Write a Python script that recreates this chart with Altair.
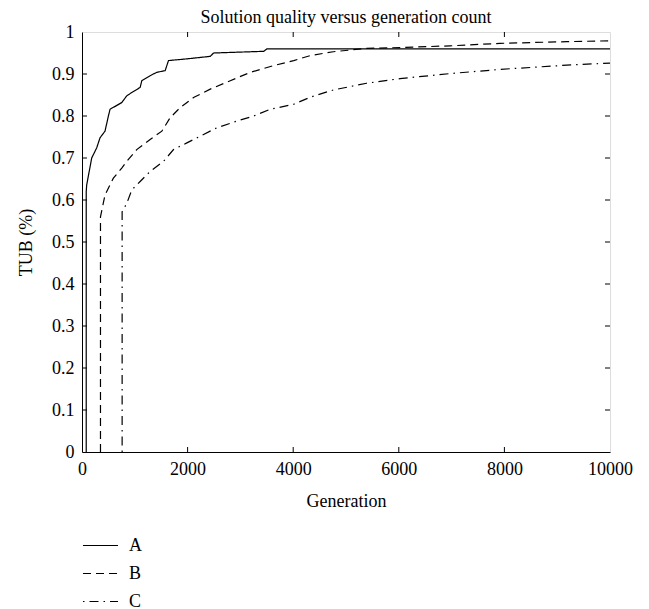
import altair as alt
import pandas as pd

# ---- data ----
a_gen = [80, 80, 89, 184, 278, 341, 436, 500, 531, 753, 848, 943, 1101, 1133,
         1290, 1417, 1575, 1638, 1986, 2429, 2492, 3441, 3504, 10000]
a_val = [0, 0.62, 0.636, 0.70, 0.724, 0.748, 0.764, 0.80, 0.816, 0.832, 0.848,
         0.856, 0.868, 0.884, 0.896, 0.904, 0.908, 0.932, 0.936, 0.942, 0.95,
         0.954, 0.96, 0.96]

b_gen = [350, 350, 436, 594, 753, 848, 1037, 1290, 1512, 1670, 1860, 2113, 2429,
         2808, 3188, 3631, 4010, 4327, 4760, 5391, 6023, 6970, 7917, 9180, 10000]
b_val = [0, 0.56, 0.612, 0.652, 0.676, 0.692, 0.72, 0.744, 0.764, 0.796, 0.82,
         0.844, 0.864, 0.884, 0.904, 0.92, 0.932, 0.944, 0.953, 0.961, 0.963,
         0.967, 0.973, 0.977, 0.979]

c_gen = [760, 760, 848, 943, 1101, 1290, 1543, 1733, 1986, 2239, 2555, 2934,
         3251, 3567, 4010, 4327, 4760, 5391, 6023, 6970, 7917, 9180, 10000]
c_val = [0, 0.572, 0.592, 0.624, 0.644, 0.668, 0.692, 0.72, 0.736, 0.752, 0.772,
         0.788, 0.80, 0.816, 0.828, 0.845, 0.862, 0.878, 0.889, 0.901, 0.911,
         0.921, 0.926]

series_names = ["A", "B", "C"]
x_ticks = [0, 2000, 4000, 6000, 8000, 10000]
y_ticks = [0, 0.1, 0.2, 0.3, 0.4, 0.5, 0.6, 0.7, 0.8, 0.9, 1]

FONT = "Liberation Serif"
W, H = 528, 420
X_MAX, Y_MAX = 10000, 1.0

rows = []
for name, gens, vals in zip(series_names, [a_gen, b_gen, c_gen], [a_val, b_val, c_val]):
    for i, (g, v) in enumerate(zip(gens, vals)):
        rows.append({"series": name, "gen": g, "val": v, "order": i})
df = pd.DataFrame(rows)

x_scale = alt.Scale(domain=[0, X_MAX], nice=False, zero=False)
y_scale = alt.Scale(domain=[0, Y_MAX], nice=False, zero=False)

lines = alt.Chart(df).mark_line(strokeWidth=1.2, color="black").encode(
    x=alt.X("gen:Q", scale=x_scale,
            axis=alt.Axis(values=x_ticks, format="d", title="Generation",
                          ticks=False, grid=False, labelPadding=8, titlePadding=14,
                          labelFlush=False, labelOverlap=False,
                          domainColor="black", labelColor="black", titleColor="black",
                          labelFont=FONT, labelFontSize=18, titleFont=FONT,
                          titleFontSize=18, titleFontWeight="normal")),
    y=alt.Y("val:Q", scale=y_scale,
            axis=alt.Axis(values=y_ticks, format=".1~f", title="TUB (%)",
                          ticks=False, grid=False, labelPadding=8, titlePadding=16,
                          labelFlush=False, labelOverlap=False,
                          domainColor="black", labelColor="black", titleColor="black",
                          labelFont=FONT, labelFontSize=18, titleFont=FONT,
                          titleFontSize=18, titleFontWeight="normal")),
    strokeDash=alt.StrokeDash(
        "series:N",
        scale=alt.Scale(domain=series_names, range=[[1, 0], [8, 5], [1.5, 5, 9, 5]]),
        legend=alt.Legend(orient="none", legendX=0, legendY=495, title=None,
                          symbolType="stroke", symbolSize=1225,
                          symbolStrokeWidth=1.2, symbolStrokeColor="black",
                          labelFont=FONT, labelFontSize=18, labelColor="black",
                          labelOffset=10, rowPadding=-10, padding=0)),
    order="order:Q",
    detail="series:N",
)

# inward tick marks on all four sides
tx = [t for t in x_ticks if 0 < t < X_MAX]
ty = [t for t in y_ticks if 0 < t < Y_MAX]
tlx = 5 * X_MAX / W
tly = 5 * Y_MAX / H
tick_rows = []
for t in tx:
    tick_rows.append({"x": t, "x2": t, "y": 0, "y2": tly})
    tick_rows.append({"x": t, "x2": t, "y": Y_MAX - tly, "y2": Y_MAX})
for t in ty:
    tick_rows.append({"x": 0, "x2": tlx, "y": t, "y2": t})
    tick_rows.append({"x": X_MAX - tlx, "x2": X_MAX, "y": t, "y2": t})
ticks_df = pd.DataFrame(tick_rows)

ticks = alt.Chart(ticks_df).mark_rule(color="black", strokeWidth=1).encode(
    x=alt.X("x:Q", scale=x_scale), x2="x2:Q",
    y=alt.Y("y:Q", scale=y_scale), y2="y2:Q",
)

chart = alt.layer(lines, ticks).properties(
    width=W, height=H,
    title=alt.TitleParams("Solution quality versus generation count", font=FONT,
                          fontSize=18, fontWeight="normal", color="black",
                          frame="group", offset=-4),
    padding={"left": 74, "top": 24, "right": 31, "bottom": 160},
    autosize=alt.AutoSizeParams(type="none"),
).configure_view(stroke="black", strokeWidth=1).configure(background="white")

chart.save("out.html", embed_options={"renderer": "svg", "actions": False})
